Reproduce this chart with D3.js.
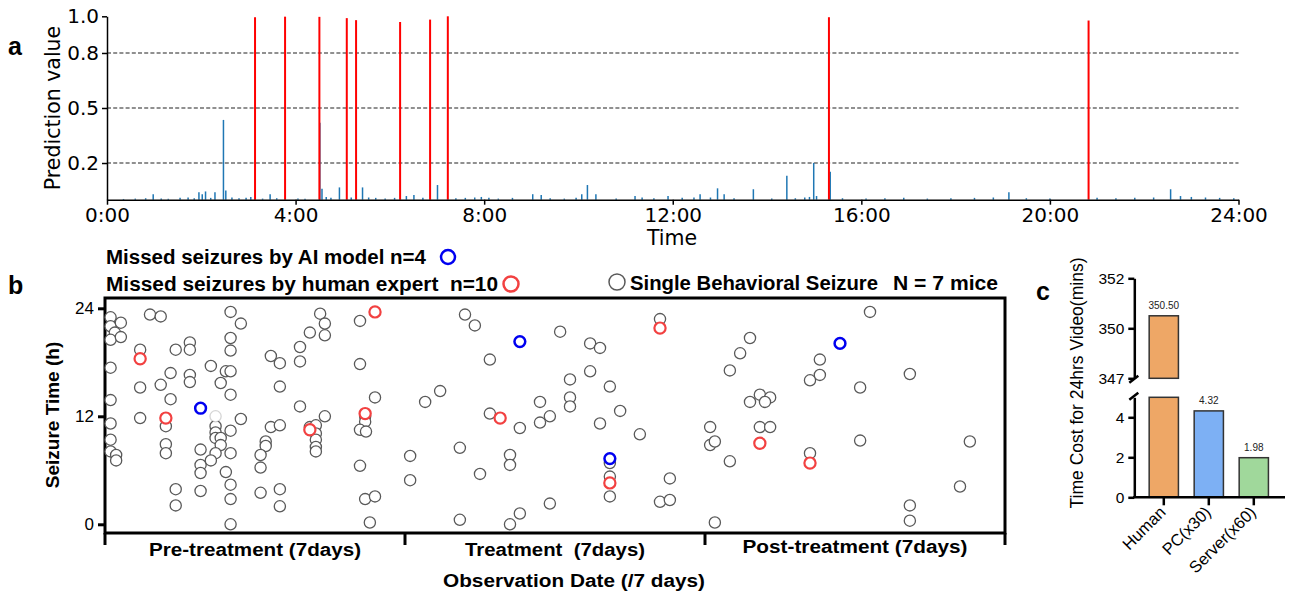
<!DOCTYPE html>
<html>
<head>
<meta charset="utf-8">
<script src="https://cdn.jsdelivr.net/npm/d3@7"></script>
<style>
body { margin: 0; background: #fff; }
svg { display: block; }
</style>
</head>
<body>
<svg id="fig" width="1291" height="596"></svg>
<script>
// panel a: one day of prediction values
var hourTicks = [0, 4, 8, 12, 16, 20, 24];
var predTicks = [0.2, 0.5, 0.8, 1.0];
var seizureSpikes = [[3.14, 0.995], [3.777, 0.998], [4.505, 0.997], [5.086, 0.99], [5.283, 0.979],
    [6.217, 0.969], [6.853, 0.982], [7.229, 1.0], [15.313, 0.995], [20.82, 0.977]];
var predSpikes = [[0.35, 0.004], [0.6, 0.006], [0.82, 0.008], [0.98, 0.03], [1.15, 0.006], [1.3, 0.005],
    [1.55, 0.01], [1.72, 0.012], [1.85, 0.008], [1.95, 0.04], [2.02, 0.03], [2.09, 0.045], [2.2, 0.01],
    [2.29, 0.04], [2.47, 0.435], [2.52, 0.05], [2.65, 0.012], [2.8, 0.008], [2.95, 0.01], [3.05, 0.015],
    [3.3, 0.006], [3.46, 0.03], [3.6, 0.008], [4.05, 0.006], [4.2, 0.005], [4.515, 0.42], [4.56, 0.06],
    [4.65, 0.015], [4.75, 0.01], [4.93, 0.067], [5.18, 0.012], [5.42, 0.067], [5.55, 0.012], [5.7, 0.01],
    [5.9, 0.006], [6.1, 0.01], [6.35, 0.02], [6.51, 0.025], [6.7, 0.01], [7.01, 0.08], [7.4, 0.008],
    [7.6, 0.01], [7.8, 0.012], [7.94, 0.015], [8.1, 0.01], [8.3, 0.006], [8.6, 0.01], [9.03, 0.03],
    [9.21, 0.025], [9.4, 0.008], [9.7, 0.006], [9.95, 0.01], [10.07, 0.03], [10.19, 0.08], [10.37, 0.03],
    [10.8, 0.006], [11.2, 0.02], [11.35, 0.012], [11.6, 0.008], [11.9, 0.02], [12.2, 0.01], [12.45, 0.012],
    [12.58, 0.03], [12.8, 0.012], [12.95, 0.062], [13.09, 0.03], [13.3, 0.008], [13.71, 0.057], [14.1, 0.006],
    [14.42, 0.13], [14.6, 0.008], [14.8, 0.012], [14.9, 0.015], [14.99, 0.2], [15.05, 0.02], [15.34, 0.153],
    [15.6, 0.008], [16.1, 0.006], [16.5, 0.008], [16.9, 0.01], [17.4, 0.006], [17.9, 0.008], [18.4, 0.01],
    [18.8, 0.012], [19.13, 0.04], [19.5, 0.008], [20.0, 0.006], [21.0, 0.01], [21.4, 0.008], [21.8, 0.01],
    [22.2, 0.012], [22.56, 0.057], [22.77, 0.02], [23.0, 0.015], [23.3, 0.012], [23.6, 0.01], [23.9, 0.008]];

// panel b: seizures as [day, hour]
var phases = ["Pre-treatment (7days)", "Treatment  (7days)", "Post-treatment (7days)"];
var phaseBounds = [0, 7, 14, 21];
var hourAxisTicks = [0, 12, 24];
var seizures = [[0.13, 23.0], [0.13, 22.0], [0.37, 22.4], [0.23, 21.3], [0.13, 20.5], [0.37, 20.8],
    [1.05, 23.3], [1.30, 23.1], [0.82, 19.4], [0.13, 17.4], [0.82, 15.2], [0.13, 13.8], [0.82, 11.8],
    [0.13, 11.2], [0.13, 9.4], [0.13, 8.1], [0.26, 7.7], [0.26, 7.1],
    [1.65, 19.4], [1.98, 20.2], [1.98, 19.4], [1.53, 16.8], [1.30, 15.5], [1.98, 16.6], [1.98, 15.8],
    [1.53, 13.9], [1.42, 10.9], [1.42, 8.9], [1.42, 7.9], [1.65, 3.9], [1.65, 2.1],
    [2.47, 17.6], [2.23, 8.3], [2.23, 6.6], [2.23, 5.7], [2.23, 3.7], [2.58, 10.9], [2.58, 10.2],
    [2.58, 9.6], [2.70, 9.6], [2.70, 8.8], [2.58, 7.9], [2.47, 7.1],
    [2.93, 23.6], [3.17, 22.3], [2.93, 20.7], [2.93, 19.3], [2.82, 17.0], [2.93, 17.0], [2.70, 15.7],
    [2.93, 14.4], [3.17, 11.7], [2.93, 10.4], [2.93, 7.9], [2.82, 5.8], [2.93, 4.4], [2.93, 2.8], [2.93, 0.0],
    [3.87, 18.7], [4.08, 17.9], [4.08, 15.3], [3.87, 10.8], [4.08, 11.0], [3.75, 9.2], [3.75, 8.7],
    [3.63, 7.7], [3.63, 6.3], [3.63, 3.5], [4.08, 3.9], [4.08, 2.0],
    [5.02, 23.4], [5.13, 22.3], [4.78, 21.3], [5.13, 21.0], [4.55, 19.7], [4.55, 18.1], [4.55, 13.1],
    [5.13, 12.0], [4.78, 10.8], [4.92, 11.0], [4.92, 10.1], [4.92, 9.4], [4.92, 8.6], [4.92, 8.1],
    [5.95, 22.6], [5.95, 17.8], [6.30, 14.1], [6.07, 12.0], [6.07, 11.4], [5.95, 10.5], [6.09, 10.3],
    [5.95, 6.5], [6.07, 2.8], [6.30, 3.1], [6.18, 0.2],
    [7.12, 7.6], [7.12, 4.9], [8.40, 23.3], [8.63, 22.1], [8.98, 18.3], [7.82, 14.8], [7.47, 13.6],
    [8.98, 12.3], [9.68, 10.7], [8.28, 8.5], [9.45, 7.7], [9.45, 6.6], [8.75, 5.6], [8.28, 0.5],
    [9.45, 0.0], [9.68, 1.2], [10.38, 2.3],
    [10.62, 21.4], [11.32, 20.1], [11.55, 19.6], [10.85, 16.1], [11.32, 17.0], [11.78, 15.3], [10.15, 13.6],
    [10.85, 14.1], [10.85, 13.1], [10.38, 12.0], [10.15, 11.3], [12.02, 12.6], [11.55, 11.2], [12.48, 10.0],
    [11.78, 6.8], [11.78, 5.3], [11.78, 3.1], [12.95, 22.8], [13.18, 5.1], [12.95, 2.5], [13.18, 2.7],
    [14.12, 10.8], [14.12, 8.8], [14.23, 9.2], [14.23, 0.2],
    [14.58, 7.0], [14.58, 17.1], [14.82, 19.0], [15.05, 20.7], [15.05, 13.6], [15.28, 14.4], [15.52, 14.1],
    [15.40, 13.6], [15.28, 10.8], [15.52, 10.8], [16.45, 16.0], [16.68, 16.6], [16.68, 18.3], [17.85, 23.6],
    [17.62, 15.2], [16.45, 7.9], [17.62, 9.3], [18.78, 16.7], [20.18, 9.2], [19.95, 4.2], [18.78, 2.1],
    [18.78, 0.4]];
var faintSeizures = [[2.58, 12.0]];
var humanMissed = [[0.82, 18.4], [1.42, 11.8], [4.78, 10.5], [6.07, 12.3], [6.30, 23.6], [9.22, 11.8],
    [11.78, 4.6], [12.95, 21.8], [15.28, 9.0], [16.45, 6.8]];
var aiMissed = [[2.23, 12.9], [9.68, 20.3], [11.78, 7.3], [17.15, 20.1]];

// panel c: minutes to review 24 hours of video
var methods = ["Human", "PC(x30)", "Server(x60)"];
var costs = [350.50, 4.32, 1.98];
var costTopTicks = [347, 350, 352];
var costLowTicks = [0, 2, 4];

var svg = d3.select("#fig");

function styleAxis(g, size, width) {
    g.attr("font-family", null).attr("font-size", null);
    g.selectAll(".domain").attr("stroke", "#000").attr("stroke-width", width);
    g.selectAll(".tick line").attr("stroke", "#000").attr("stroke-width", width);
    g.selectAll(".tick text").attr("fill", "#000").attr("font-size", size);
}

// ---------- a ----------
var pa = svg.append("g").attr("font-family", "DejaVu Sans");
var timeScale = d3.scaleLinear().domain([0, 24]).range([107, 1238.5]);
var predScale = d3.scaleLinear().domain([0, 1]).range([199.7, 16.3]);

pa.selectAll(".grid").data(predTicks.filter(function (v) { return v < 1; }))
    .enter().append("line")
    .attr("x1", timeScale(0)).attr("x2", timeScale(24))
    .attr("y1", predScale).attr("y2", predScale)
    .attr("stroke", "#222").attr("stroke-width", 1.2).attr("stroke-dasharray", "4,2.2");

pa.selectAll(".pred").data(predSpikes).enter().append("line")
    .attr("x1", function (d) { return timeScale(d[0]); })
    .attr("x2", function (d) { return timeScale(d[0]); })
    .attr("y1", predScale(0))
    .attr("y2", function (d) { return predScale(d[1]); })
    .attr("stroke", "#1f77b4").attr("stroke-width", 1.5);

pa.selectAll(".seiz").data(seizureSpikes).enter().append("line")
    .attr("x1", function (d) { return timeScale(d[0]); })
    .attr("x2", function (d) { return timeScale(d[0]); })
    .attr("y1", predScale(0))
    .attr("y2", function (d) { return predScale(d[1]); })
    .attr("stroke", "#ff0000").attr("stroke-width", 2);

pa.append("g").attr("transform", "translate(0," + predScale(0) + ")")
    .call(d3.axisBottom(timeScale).tickValues(hourTicks)
        .tickFormat(function (h) { return h + ":00"; }).tickSize(5).tickSizeOuter(0).tickPadding(3))
    .call(styleAxis, 20, 1.5);
pa.append("g").attr("transform", "translate(" + timeScale(0) + ",0)")
    .call(d3.axisLeft(predScale).tickValues(predTicks).tickFormat(d3.format(".1f"))
        .tickSize(5).tickSizeOuter(0).tickPadding(3))
    .call(styleAxis, 20, 1.5);

pa.append("text").attr("transform", "translate(60,108) rotate(-90)")
    .attr("text-anchor", "middle").attr("font-size", 20.5).text("Prediction value");
pa.append("text").attr("x", 672).attr("y", 245).attr("text-anchor", "middle")
    .attr("font-size", 20.5).text("Time");
svg.append("text").attr("x", 8).attr("y", 55).attr("font-family", "Liberation Sans")
    .attr("font-weight", "bold").attr("font-size", 25).text("a");

// ---------- b ----------
var pb = svg.append("g").attr("font-family", "Liberation Sans, Arial, sans-serif");
var dayScale = d3.scaleLinear().domain([0, 21]).range([105, 1005]);
var hourScale = d3.scaleLinear().domain([0, 24]).range([524.3, 308.3]);

pb.append("rect")
    .attr("x", dayScale(0)).attr("y", 298)
    .attr("width", dayScale(21) - dayScale(0)).attr("height", 235)
    .attr("fill", "none").attr("stroke", "#000").attr("stroke-width", 3);

pb.append("g").attr("transform", "translate(" + dayScale(0) + ",0)")
    .call(d3.axisLeft(hourScale).tickValues(hourAxisTicks).tickSize(7).tickSizeOuter(0).tickPadding(4))
    .call(styleAxis, 17, 3)
    .call(function (g) { g.select(".domain").remove(); });

pb.selectAll(".ptick").data(phaseBounds).enter().append("line")
    .attr("x1", dayScale).attr("x2", dayScale)
    .attr("y1", 533).attr("y2", 545)
    .attr("stroke", "#000").attr("stroke-width", 3);

var phaseWidths = [212, 180, 225];
pb.selectAll(".plabel").data(phases).enter().append("text")
    .attr("x", function (d, i) { return dayScale((phaseBounds[i] + phaseBounds[i + 1]) / 2); })
    .attr("y", function (d, i) { return i === 2 ? 553 : 556; })
    .attr("text-anchor", "middle").attr("font-weight", "bold").attr("font-size", 18)
    .attr("textLength", function (d, i) { return phaseWidths[i]; })
    .attr("lengthAdjust", "spacingAndGlyphs")
    .style("white-space", "pre")
    .text(function (d) { return d; });

pb.append("text").attr("x", 574).attr("y", 587).attr("text-anchor", "middle")
    .attr("font-weight", "bold").attr("font-size", 18)
    .attr("textLength", 262).attr("lengthAdjust", "spacingAndGlyphs")
    .text("Observation Date (/7 days)");
pb.append("text").attr("transform", "translate(59,415) rotate(-90)")
    .attr("text-anchor", "middle").attr("font-weight", "bold").attr("font-size", 19)
    .text("Seizure Time (h)");

function drawDots(data, color, width, r, opacity) {
    pb.append("g").selectAll("circle").data(data).enter().append("circle")
        .attr("cx", function (d) { return dayScale(d[0]); })
        .attr("cy", function (d) { return hourScale(d[1]); })
        .attr("r", r)
        .attr("fill", "#fff").attr("stroke", color).attr("stroke-width", width)
        .attr("stroke-opacity", opacity);
}
drawDots(seizures, "#595959", 1.3, 5.6, 1);
drawDots(faintSeizures, "#595959", 1.3, 5.6, 0.25);
drawDots(humanMissed, "#f24141", 2.2, 5.6, 1);
drawDots(aiMissed, "#0000f0", 2.5, 5.4, 1);

var legend = [
    { text: "Missed seizures by AI model n=4", x: 106, y: 264, w: 320, cx: 448, cy: 257, color: "#0000f0", sw: 2.5, r: 7 },
    { text: "Missed seizures by human expert  n=10", x: 106, y: 291, w: 392, cx: 511, cy: 284, color: "#f24141", sw: 2.5, r: 7.5 },
    { text: "Single Behavioral Seizure", x: 630, y: 290, w: 248, cx: 617, cy: 282, color: "#595959", sw: 1.5, r: 8 },
    { text: "N = 7 mice", x: 893, y: 290, w: 105 }
];
legend.forEach(function (l) {
    pb.append("text").attr("x", l.x).attr("y", l.y)
        .attr("font-weight", "bold").attr("font-size", 20)
        .attr("textLength", l.w).attr("lengthAdjust", "spacingAndGlyphs")
        .style("white-space", "pre").text(l.text);
    if (l.cx) {
        pb.append("circle").attr("cx", l.cx).attr("cy", l.cy).attr("r", l.r)
            .attr("fill", "#fff").attr("stroke", l.color).attr("stroke-width", l.sw);
    }
});
svg.append("text").attr("x", 8).attr("y", 294).attr("font-family", "Liberation Sans")
    .attr("font-weight", "bold").attr("font-size", 25).text("b");

// ---------- c ----------
var pc = svg.append("g").attr("font-family", "Liberation Sans, Arial, sans-serif");
var barFill = ["#eea766", "#7db0f4", "#a0d89b"];
var costTop = d3.scaleLinear().domain([347, 350, 352]).range([378.3, 328.3, 278.3]);
var costLow = d3.scaleLinear().domain([0, 5]).range([497.3, 397.3]);
var methodScale = d3.scaleBand().domain(methods).range([1141.3, 1276.3])
    .paddingInner(0.35).paddingOuter(0.175);
var axisX = 1134.3;

methods.forEach(function (m, i) {
    var v = costs[i];
    var x = methodScale(m), w = methodScale.bandwidth();
    var top = v > 5 ? costLow(5) : costLow(v);
    pc.append("rect").attr("x", x).attr("y", top).attr("width", w).attr("height", costLow(0) - top)
        .attr("fill", barFill[i]).attr("stroke", "#333").attr("stroke-width", 1.5);
    var labelY = costLow(v) - 7;
    if (v > 5) {
        pc.append("rect").attr("x", x).attr("y", costTop(v)).attr("width", w)
            .attr("height", costTop(347) - costTop(v))
            .attr("fill", barFill[i]).attr("stroke", "#333").attr("stroke-width", 1.5);
        labelY = costTop(v) - 7;
    }
    pc.append("text").attr("x", x + w / 2).attr("y", labelY).attr("text-anchor", "middle")
        .attr("font-size", 10).attr("fill", "#222").text(v.toFixed(2));
});

pc.append("g").attr("transform", "translate(" + axisX + ",0)")
    .call(d3.axisLeft(costTop).tickValues(costTopTicks).tickFormat(d3.format("d"))
        .tickSize(6).tickSizeOuter(0).tickPadding(4))
    .call(styleAxis, 15.5, 2.5);
pc.append("g").attr("transform", "translate(" + axisX + ",0)")
    .call(d3.axisLeft(costLow).tickValues(costLowTicks).tickFormat(d3.format("d"))
        .tickSize(6).tickSizeOuter(0).tickPadding(4))
    .call(styleAxis, 15.5, 2.5);

// axis break marks
[costTop(347), costLow(5)].forEach(function (y, i) {
    var yy = i === 0 ? y + 1 : y - 1;
    pc.append("line").attr("x1", axisX - 5).attr("x2", axisX + 4)
        .attr("y1", yy + 3.5).attr("y2", yy - 3.5)
        .attr("stroke", "#000").attr("stroke-width", 2.5);
});

pc.append("line").attr("x1", axisX - 1.2).attr("x2", 1285)
    .attr("y1", costLow(0)).attr("y2", costLow(0))
    .attr("stroke", "#000").attr("stroke-width", 2.5);
pc.selectAll(".mtick").data(methods).enter().append("line")
    .attr("x1", function (d) { return methodScale(d) + methodScale.bandwidth() / 2; })
    .attr("x2", function (d) { return methodScale(d) + methodScale.bandwidth() / 2; })
    .attr("y1", costLow(0)).attr("y2", costLow(0) + 8)
    .attr("stroke", "#000").attr("stroke-width", 2.5);
pc.selectAll(".mlabel").data(methods).enter().append("text")
    .attr("transform", function (d) {
        return "translate(" + (methodScale(d) + methodScale.bandwidth() / 2 + 3) + "," + (costLow(0) + 16) + ") rotate(-45)";
    })
    .attr("text-anchor", "end").attr("font-size", 16.5).text(function (d) { return d; });

pc.append("text").attr("transform", "translate(1083,383) rotate(-90)")
    .attr("text-anchor", "middle").attr("font-size", 17.5)
    .text("Time Cost for 24hrs Video(mins)");
svg.append("text").attr("x", 1036).attr("y", 300).attr("font-family", "Liberation Sans")
    .attr("font-weight", "bold").attr("font-size", 25).text("c");
</script>
</body>
</html>
